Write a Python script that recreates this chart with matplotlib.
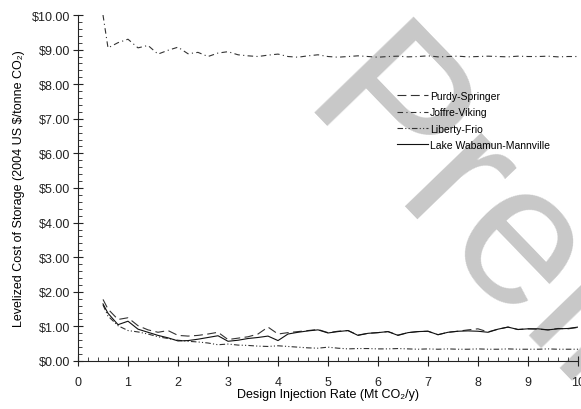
import matplotlib
matplotlib.use("Agg")
import matplotlib.pyplot as plt
from matplotlib.ticker import MultipleLocator, FormatStrFormatter

plt.rcParams['font.family'] = ['Liberation Sans', 'DejaVu Sans']

x = [0.5, 0.6, 0.8, 1.0, 1.2, 1.4, 1.6, 1.8, 2.0, 2.2, 2.4, 2.6, 2.8, 3.0, 3.2, 3.4,
     3.6, 3.8, 4.0, 4.2, 4.4, 4.6, 4.8, 5.0, 5.2, 5.4, 5.6, 5.8, 6.0, 6.2, 6.4, 6.6,
     6.8, 7.0, 7.2, 7.4, 7.6, 7.8, 8.0, 8.2, 8.4, 8.6, 8.8, 9.0, 9.2, 9.4, 9.6, 9.8, 10.0]

purdy = [1.78, 1.50, 1.20, 1.25, 1.02, 0.90, 0.83, 0.88, 0.74, 0.72, 0.74, 0.78, 0.83, 0.62, 0.66, 0.70,
         0.78, 0.98, 0.78, 0.82, 0.85, 0.88, 0.91, 0.82, 0.86, 0.88, 0.75, 0.80, 0.82, 0.85, 0.75, 0.82,
         0.85, 0.86, 0.76, 0.83, 0.86, 0.90, 0.93, 0.84, 0.92, 0.98, 0.91, 0.93, 0.92, 0.90, 0.94, 0.93, 0.97]

joffre = [10.0, 9.05, 9.20, 9.30, 9.05, 9.12, 8.87, 8.98, 9.07, 8.88, 8.92, 8.80, 8.90, 8.94, 8.85, 8.82,
          8.80, 8.84, 8.87, 8.80, 8.78, 8.82, 8.85, 8.80, 8.78, 8.80, 8.82, 8.80, 8.78, 8.80, 8.81, 8.79,
          8.80, 8.82, 8.79, 8.80, 8.81, 8.79, 8.80, 8.81, 8.80, 8.79, 8.81, 8.80, 8.80, 8.81, 8.79, 8.80, 8.80]

liberty = [1.62, 1.30, 1.02, 0.88, 0.84, 0.78, 0.70, 0.65, 0.60, 0.57, 0.55, 0.52, 0.47, 0.49, 0.46, 0.45,
           0.43, 0.42, 0.44, 0.42, 0.40, 0.38, 0.37, 0.40, 0.37, 0.35, 0.36, 0.36, 0.35, 0.35, 0.36, 0.35,
           0.34, 0.35, 0.34, 0.35, 0.34, 0.34, 0.35, 0.34, 0.34, 0.35, 0.34, 0.34, 0.34, 0.35, 0.34, 0.34, 0.34]

lake = [1.65, 1.38, 1.05, 1.15, 0.92, 0.83, 0.74, 0.67, 0.58, 0.59, 0.63, 0.68, 0.73, 0.57, 0.60, 0.65,
        0.68, 0.72, 0.59, 0.78, 0.83, 0.87, 0.90, 0.81, 0.85, 0.88, 0.74, 0.80, 0.82, 0.85, 0.74, 0.82,
        0.85, 0.86, 0.76, 0.83, 0.86, 0.87, 0.86, 0.83, 0.92, 0.98, 0.91, 0.93, 0.93, 0.90, 0.93, 0.94, 0.98]

fig = plt.figure(figsize=(5.81, 4.10), dpi=100)
ax = fig.add_axes([78/581, 1-362/410, 500/581, 346/410])
ax.set_facecolor('none')

lw = 0.8
ax.plot(x, purdy, color='#333333', lw=lw, linestyle=(0, (8, 4)), label='Purdy-Springer')
ax.plot(x, joffre, color='#333333', lw=lw, linestyle=(0, (5, 3, 1, 3)), label='Joffre-Viking')
ax.plot(x, liberty, color='#333333', lw=lw, linestyle=(0, (5, 2, 1, 2, 1, 2)), label='Liberty-Frio')
ax.plot(x, lake, color='#111111', lw=lw, linestyle='-', label='Lake Wabamun-Mannville')

ax.set_xlim(0, 10)
ax.set_ylim(0, 10)
ax.xaxis.set_major_locator(MultipleLocator(1))
ax.xaxis.set_minor_locator(MultipleLocator(0.2))
ax.yaxis.set_major_locator(MultipleLocator(1))
ax.yaxis.set_minor_locator(MultipleLocator(0.2))
ax.yaxis.set_major_formatter(FormatStrFormatter(r'\$%.2f'))

for s in ['top', 'right']:
    ax.spines[s].set_visible(False)
for s in ['left', 'bottom']:
    ax.spines[s].set_linewidth(0.8)
    ax.spines[s].set_color('#222222')

ax.tick_params(which='major', direction='inout', length=7, width=0.8, labelsize=9, colors='#222222')
ax.tick_params(which='minor', direction='in', length=3, width=0.6, colors='#222222')
ax.tick_params(axis='x', which='major', pad=7)
ax.tick_params(axis='y', which='major', pad=2)

ax.set_xlabel('Design Injection Rate (Mt CO\u2082/y)', fontsize=9, labelpad=0)
ax.set_ylabel('Levelized Cost of Storage (2004 US \\$/tonne CO\u2082)', fontsize=9, labelpad=5)

leg = ax.legend(loc='upper left', bbox_to_anchor=(0.628, 0.795), frameon=False, fontsize=7.5,
                handlelength=3.0, handletextpad=0.15, labelspacing=0.6, borderpad=0)

fig.text(297/581, 1-112/410, 'Preliminary', rotation=-46, rotation_mode='anchor',
         ha='left', va='baseline', fontsize=145, color='#c8c8c8', zorder=-1)

fig.savefig('out.png', dpi=100)
